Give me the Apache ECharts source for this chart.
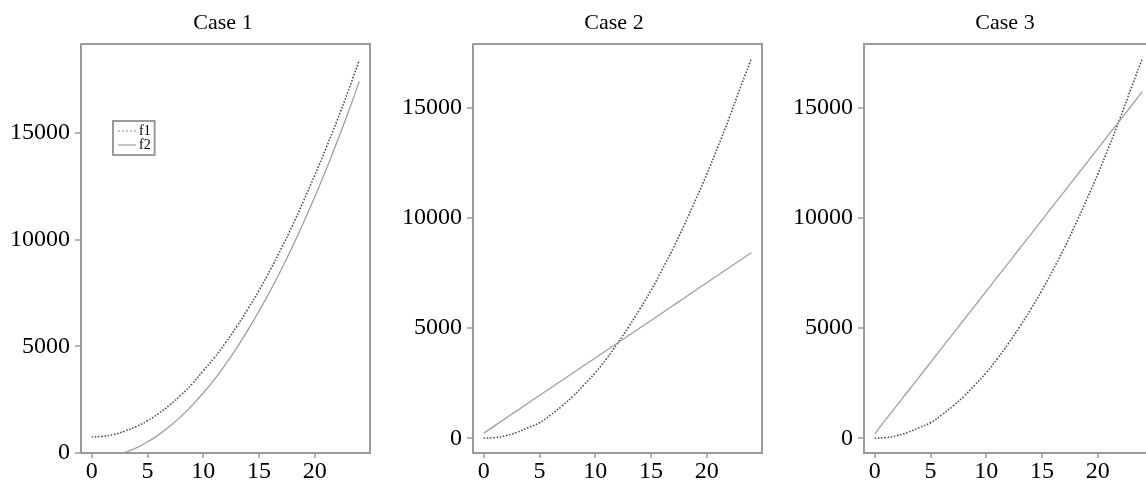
<!DOCTYPE html>
<html>
<head>
<meta charset="utf-8">
<script src="https://cdn.jsdelivr.net/npm/echarts@6/dist/echarts.min.js"></script>
<style>
html,body{margin:0;padding:0;background:#fff;}
#chart{width:1146px;height:486px;}
</style>
</head>
<body>
<div id="chart"></div>
<script>
const xs = [0,1,2,3,4,5,6,7,8,9,10,11,12,13,14,15,16,17,18,19,20,21,22,23,24];
const titles = ['Case 1','Case 2','Case 3'];
const xTicks = [0,5,10,15,20];
const yTicks = [0,5000,10000,15000];
const case1F1 = [750,780,870,1030,1240,1510,1850,2250,2710,3230,3850,4460,5160,5920,6740,7600,8560,9570,10650,11800,13000,14250,15560,16940,18400];
const case1F2 = [-250,-220,-130,30,240,515,850,1250,1710,2230,2810,3440,4150,4920,5750,6640,7580,8590,9660,10790,11990,13240,14560,15940,17400];
const case2F1 = [0,30,120,270,480,700,1050,1450,1900,2420,2970,3600,4300,5050,5850,6700,7640,8620,9680,10800,11960,13200,14500,15860,17200];
const case2F2 = [230,570,910,1250,1600,1940,2280,2620,2960,3300,3640,3980,4320,4660,5000,5340,5680,6020,6360,6710,7050,7390,7730,8070,8410];
const case3F1 = [0,30,120,270,480,700,1050,1450,1900,2420,2970,3600,4300,5050,5850,6700,7640,8620,9680,10800,11960,13200,14500,15860,17200];
const case3F2 = [200,850,1490,2140,2780,3430,4080,4720,5370,6010,6660,7310,7950,8600,9240,9890,10540,11180,11830,12470,13120,13770,14410,15060,15710];

const FONT = 'Liberation Serif';
const frame = '#9a9a9a';
const panels = [
  {left:81, titleX:223, f1:case1F1, f2:case1F2, ymin:0, ymax:19150},
  {left:473, titleX:614, f1:case2F1, f2:case2F2, ymin:-670, ymax:17870},
  {left:864, titleX:1005, f1:case3F1, f2:case3F2, ymin:-670, ymax:17870}
];
const W = 289, TOP = 44, H = 409;

const pairs = (arr) => xs.map((x, i) => [x, arr[i]]);

const option = {
  animation: false,
  backgroundColor: '#fff',
  title: panels.map((p, i) => ({
    text: titles[i], left: p.titleX, top: 12, textAlign: 'center', padding: 0,
    textStyle: {fontFamily: FONT, fontSize: 22, fontWeight: 'normal', color: '#000'}
  })),
  legend: {
    data: ['f1', 'f2'], orient: 'vertical', left: 113, top: 121,
    padding: [3, 4, 3, 4], itemGap: 0, itemWidth: 18, itemHeight: 12,
    borderColor: frame, borderWidth: 2,
    itemStyle: {opacity: 0},
    lineStyle: {color: '#c4c4c4'},
    textStyle: {fontFamily: FONT, fontSize: 14, color: '#000', padding: [0, 0, 0, -2]}
  },
  grid: panels.map(p => ({
    left: p.left, top: TOP, width: W, height: H, show: true,
    borderColor: frame, borderWidth: 2, outerBoundsMode: 'none', containLabel: false
  })),
  xAxis: panels.map((p, i) => ({
    type: 'value', gridIndex: i, min: -0.96, max: 24.96,
    splitLine: {show: false},
    axisLine: {show: true, onZero: false, lineStyle: {color: frame, width: 2}},
    axisTick: {show: true, length: 5, customValues: xTicks, lineStyle: {color: frame, width: 1.5}},
    axisLabel: {customValues: xTicks, margin: 7, fontFamily: FONT, fontSize: 24, color: '#000',
      formatter: v => String(v)}
  })),
  yAxis: panels.map((p, i) => ({
    type: 'value', gridIndex: i, min: p.ymin, max: p.ymax,
    splitLine: {show: false},
    axisLine: {show: true, onZero: false, lineStyle: {color: frame, width: 2}},
    axisTick: {show: true, length: 6, customValues: yTicks, lineStyle: {color: frame, width: 1.5}},
    axisLabel: {customValues: yTicks, margin: 11, fontFamily: FONT, fontSize: 24, color: '#000',
      formatter: v => String(v)}
  })),
  series: []
};

panels.forEach((p, i) => {
  option.series.push({
    name: 'f1', type: 'line', xAxisIndex: i, yAxisIndex: i, data: pairs(p.f1),
    smooth: true, showSymbol: false, symbol: 'none', clip: true,
    lineStyle: {color: '#555', width: 1.6, type: 'dotted'}, itemStyle: {color: '#555'}
  });
  option.series.push({
    name: 'f2', type: 'line', xAxisIndex: i, yAxisIndex: i, data: pairs(p.f2),
    smooth: true, showSymbol: false, symbol: 'none', clip: true,
    lineStyle: {color: '#a0a0a0', width: 1.3, type: 'solid'}, itemStyle: {color: '#a0a0a0'}
  });
});

const chart = echarts.init(document.getElementById('chart'), null, {renderer: 'canvas'});
chart.setOption(option);
</script>
</body>
</html>
